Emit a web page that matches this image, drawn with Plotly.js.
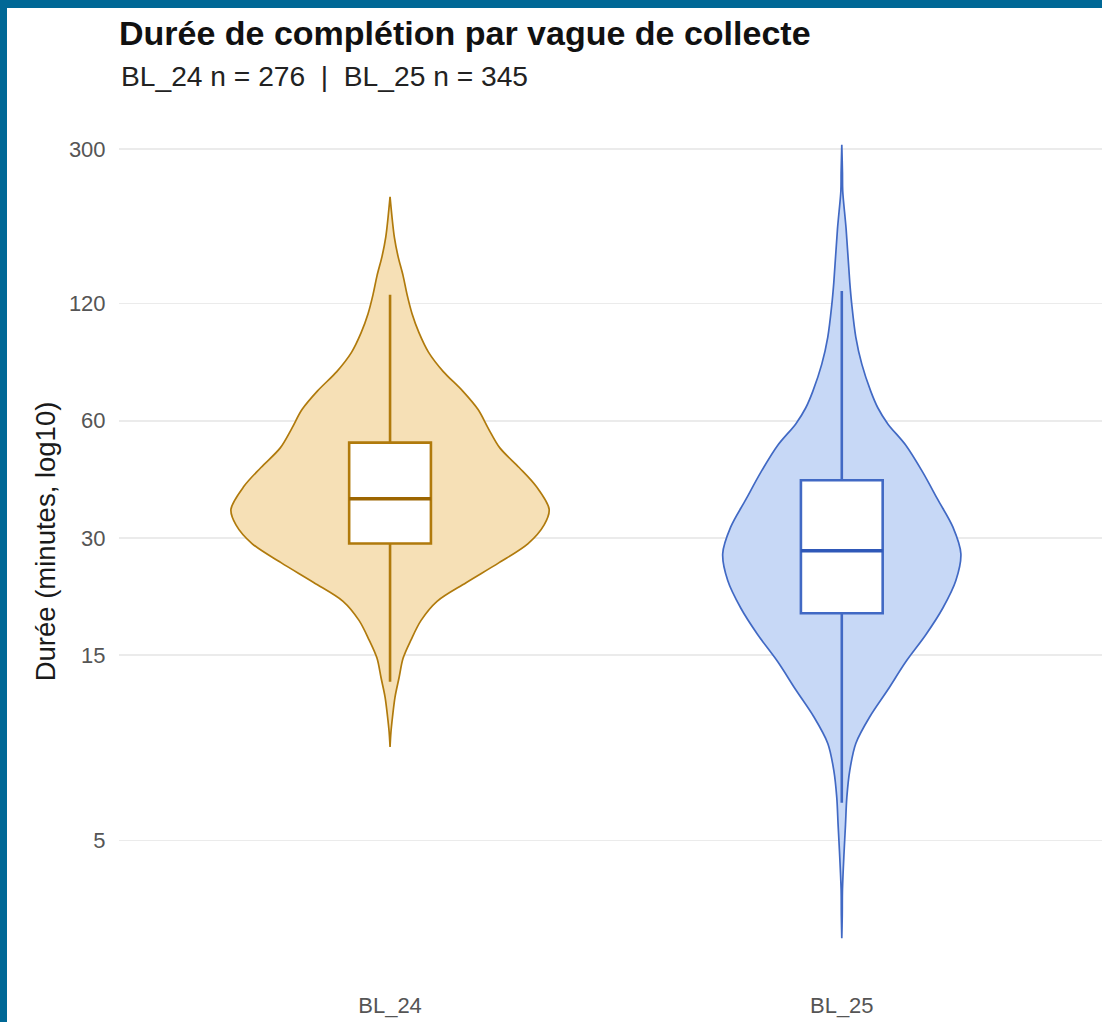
<!DOCTYPE html>
<html>
<head>
<meta charset="utf-8">
<script src="https://cdn.plot.ly/plotly-3.0.1.min.js"></script>
<style>
  html, body { margin: 0; padding: 0; background: #006896; width: 1102px; height: 1022px; overflow: hidden; }
  #chart { position: absolute; left: 7px; top: 8px; width: 1095px; height: 1014px; background: #ffffff; }
</style>
</head>
<body>
<div id="chart"></div>
<script>
// ---- Data ----
const categories = ['BL_24', 'BL_25'];
const nCounts = [276, 345];
const colorsLine = ['#B07A0C', '#4169C4'];
const colorsFill = ['#F6E0B6', '#C7D8F6'];
const colorsMedian = ['#9C6500', '#2F58B8'];

// Box-plot statistics (minutes)
const lowerWhisker = [12.8, 6.25];
const q1 = [29.0, 19.2];
const medians = [37.8, 27.8];
const q3 = [52.7, 42.2];
const upperWhisker = [126.6, 129.3];

// Violin density profiles: duration (minutes) and half-width (category units)
const bl24Minutes = [226, 177.9, 158.8, 141.7, 126.6, 113.1, 101.1, 90.1, 80.4, 71.7, 64.1, 57.2, 51.1, 45.5, 40.7, 35.5, 32.4, 29.0, 25.9, 23.0, 20.6, 18.4, 16.4, 14.7, 13.1, 11.7, 10.4, 9.5, 8.7];
const bl24Width   = [0, 0.0095, 0.0177, 0.0288, 0.0377, 0.0487, 0.064, 0.0850, 0.1174, 0.1600, 0.1949, 0.218, 0.2430, 0.2857, 0.3234, 0.3522, 0.3411, 0.3056, 0.2414, 0.1683, 0.1040, 0.0687, 0.0465, 0.0288, 0.0199, 0.0111, 0.0055, 0.002, 0];
const bl25Minutes = [307.7, 260, 234.3, 187.1, 135.9, 119.3, 98.5, 83.9, 71.4, 64.8, 58.9, 51.9, 44.2, 37.6, 32.0, 27.3, 23.3, 19.8, 16.9, 14.4, 12.2, 10.4, 8.88, 7.57, 6.44, 5.49, 4.68, 3.74, 3.2, 2.80];
const bl25Width   = [0, 0.0015, 0.002, 0.0095, 0.0177, 0.0221, 0.031, 0.0443, 0.0642, 0.0797, 0.1019, 0.1417, 0.1794, 0.2126, 0.2458, 0.2636, 0.2525, 0.2237, 0.186, 0.1417, 0.1019, 0.062, 0.031, 0.0177, 0.0111, 0.0082, 0.0051, 0.0015, 0.001, 0];

const yTickVals = [5, 15, 30, 60, 120, 300];
const yTickText = ['5', '15', '30', '60', '120', '300'];

// ---- Build traces ----
const FONT = 'Liberation Sans, Arial, Helvetica, sans-serif';
const positions = [1, 2];
const boxWidth = 0.181;
const xRange = [0.4, 2.576];
const yRange = [0.3452, 2.5901];
const profiles = [[bl24Minutes, bl24Width], [bl25Minutes, bl25Width]];

const traces = [];
profiles.forEach(function (p, i) {
  const c = positions[i];
  const mins = p[0], w = p[1];
  const xs = [], ys = [];
  for (let k = 0; k < mins.length; k++) { xs.push(c + w[k]); ys.push(mins[k]); }
  for (let k = mins.length - 1; k >= 0; k--) { xs.push(c - w[k]); ys.push(mins[k]); }
  xs.push(xs[0]); ys.push(ys[0]);
  traces.push({
    type: 'scatter', mode: 'lines', x: xs, y: ys,
    fill: 'toself', fillcolor: colorsFill[i],
    line: { color: colorsLine[i], width: 1.7, shape: 'spline', smoothing: 0.9 },
    hoverinfo: 'skip', showlegend: false
  });
});

// Boxes go on an overlaying axis pair so they are drawn above the violin fills
categories.forEach(function (cat, i) {
  traces.push({
    type: 'box', name: cat, x: [positions[i]], xaxis: 'x2', yaxis: 'y2',
    lowerfence: [lowerWhisker[i]], q1: [q1[i]], median: [medians[i]],
    q3: [q3[i]], upperfence: [upperWhisker[i]],
    width: boxWidth, whiskerwidth: 0, boxpoints: false,
    fillcolor: '#ffffff', line: { color: colorsLine[i], width: 2.6 },
    showlegend: false
  });
  traces.push({
    type: 'scatter', mode: 'lines', xaxis: 'x2', yaxis: 'y2',
    x: [positions[i] - boxWidth / 2, positions[i] + boxWidth / 2],
    y: [medians[i], medians[i]],
    line: { color: colorsMedian[i], width: 3.5 },
    hoverinfo: 'skip', showlegend: false
  });
});

const layout = {
  width: 1095, height: 1014,
  margin: { l: 112.4, r: 0, t: 97.4, b: 43.8 },
  paper_bgcolor: '#ffffff', plot_bgcolor: '#ffffff',
  font: { family: FONT },
  showlegend: false,
  title: {
    text: 'Durée de complétion par vague de collecte',
    font: { family: FONT, size: 34, color: '#111111', weight: 'bold' },
    x: 0, xref: 'paper', xanchor: 'left',
    y: 0.987, yref: 'container', yanchor: 'top'
  },
  annotations: [{
    text: 'BL_24 n = ' + nCounts[0] + '\u00A0\u00A0|\u00A0\u00A0BL_25 n = ' + nCounts[1],
    font: { family: FONT, size: 28.2, color: '#222222' },
    xref: 'paper', yref: 'paper', x: 0, y: 1.0335,
    xanchor: 'left', yanchor: 'middle', showarrow: false
  }],
  xaxis: {
    range: xRange, tickvals: positions, ticktext: categories,
    showgrid: false, zeroline: false, showline: false,
    ticks: 'outside', ticklen: 8, tickcolor: 'rgba(0,0,0,0)',
    tickfont: { family: FONT, size: 22, color: '#555555' }
  },
  yaxis: {
    type: 'log', range: yRange,
    tickvals: yTickVals, ticktext: yTickText,
    showgrid: true, gridcolor: '#EBEBEB', gridwidth: 1.6,
    zeroline: false, showline: false,
    ticks: 'outside', ticklen: 8, tickcolor: 'rgba(0,0,0,0)',
    tickfont: { family: FONT, size: 22, color: '#555555' },
    title: { text: 'Durée (minutes, log10)', font: { family: FONT, size: 27.5, color: '#1a1a1a' }, standoff: 5 }
  },
  xaxis2: { overlaying: 'x', range: xRange, visible: false, showgrid: false, zeroline: false },
  yaxis2: { overlaying: 'y', type: 'log', range: yRange, visible: false, showgrid: false, zeroline: false }
};

Plotly.newPlot('chart', traces, layout, { displayModeBar: false, staticPlot: true });
</script>
</body>
</html>
